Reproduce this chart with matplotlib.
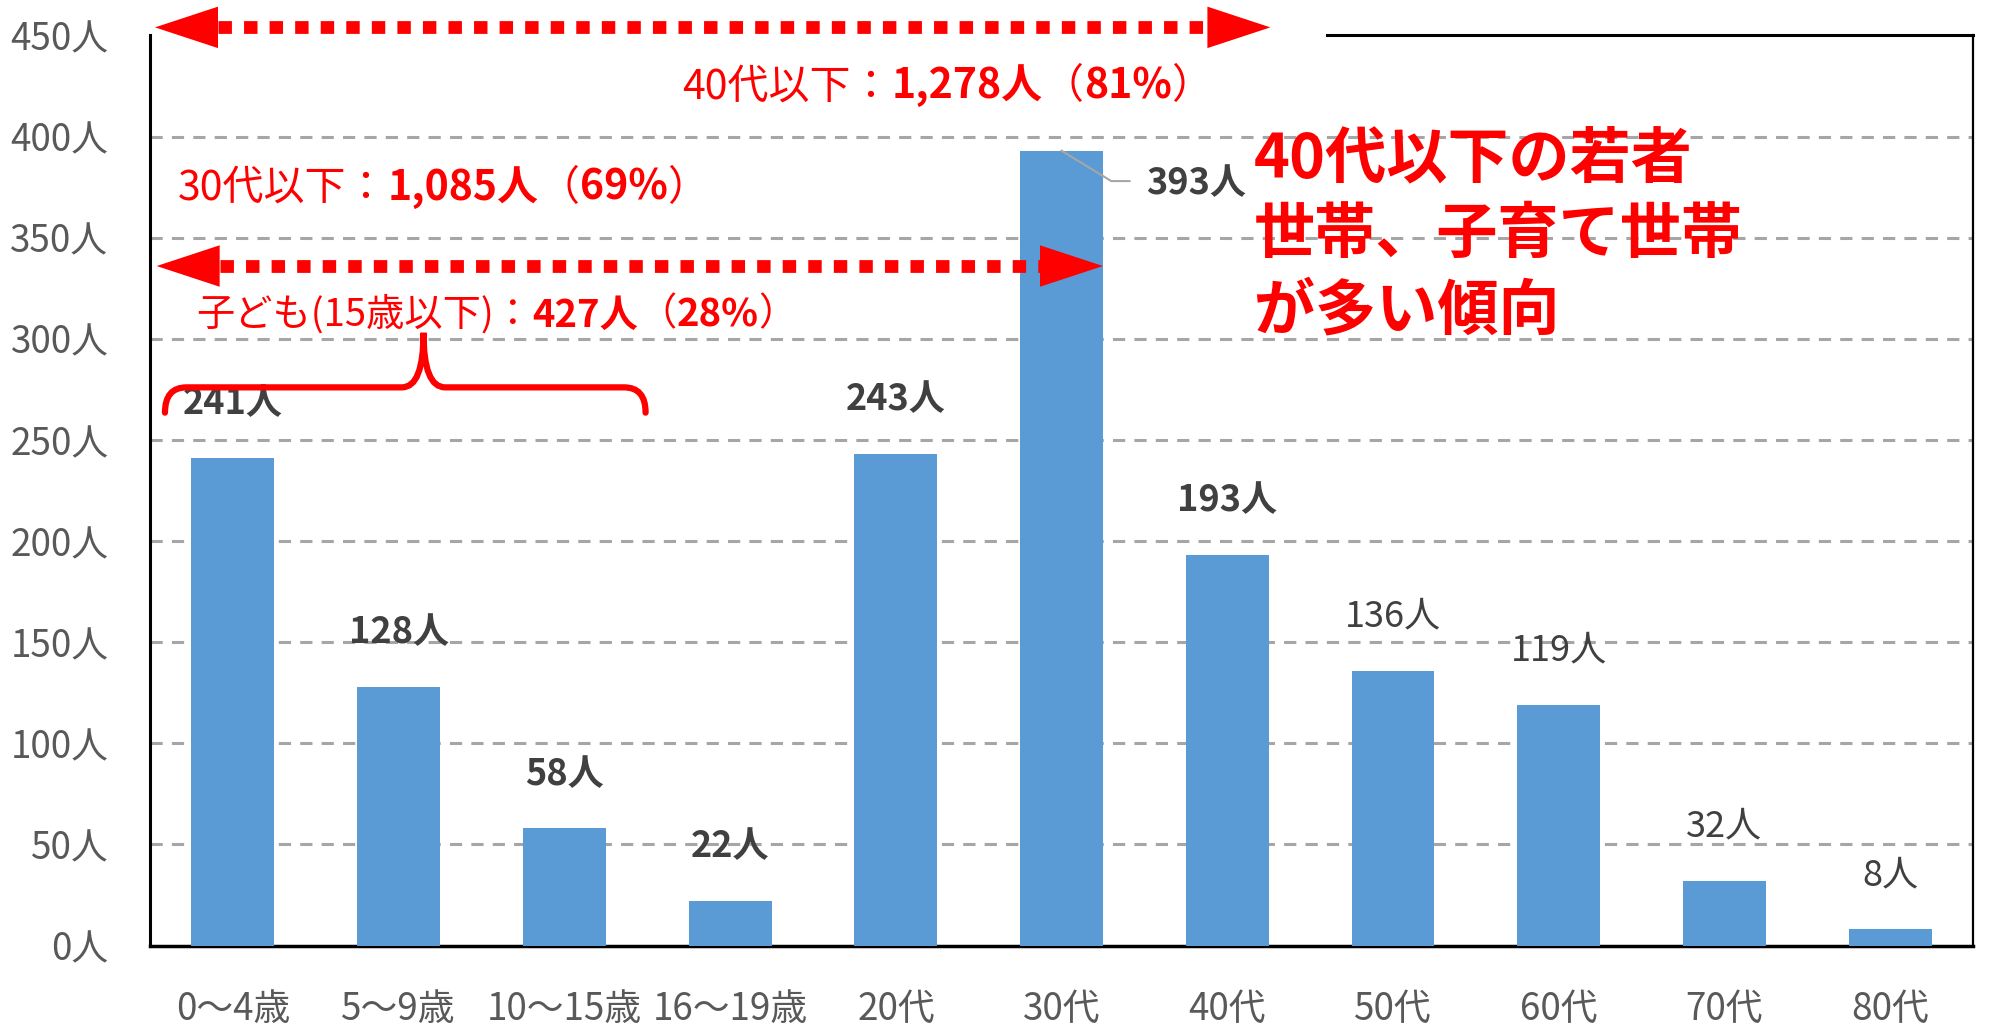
import matplotlib
matplotlib.use('Agg')
import matplotlib.pyplot as plt
from matplotlib.path import Path
from matplotlib.patches import PathPatch, Polygon

plt.rcParams['font.family'] = ['Noto Sans CJK JP', 'DejaVu Sans']

# データ（年代別の人数）
categories = ['0～4歳', '5～9歳', '10～15歳', '16～19歳', '20代', '30代',
              '40代', '50代', '60代', '70代', '80代']
people = [241, 128, 58, 22, 243, 393, 193, 136, 119, 32, 8]
yticks = [0, 50, 100, 150, 200, 250, 300, 350, 400, 450]
ytick_labels = [f'{v}人' for v in yticks]

# 注記テキスト（文字列, 太さ）
text_40 = [('40代以下：', 'normal'), ('1,278人', 'bold'), ('（', 'normal'),
           ('81%', 'bold'), ('）', 'normal')]
text_30 = [('30代以下：', 'normal'), ('1,085人', 'bold'), ('（', 'normal'),
           ('69%', 'bold'), ('）', 'normal')]
text_kids = [('子ども(15歳以下)：', 'normal'), ('427人', 'bold'), ('（', 'normal'),
             ('28%', 'bold'), ('）', 'normal')]
message = '40代以下の若者\n世帯、子育て世帯\nが多い傾向'

RED = '#FF0000'
BLUE = '#5B9BD5'
GRID = '#A6A6A6'
bold_labels = [True] * 7 + [False] * 4


def rich_text(ax, x, y, parts, size):
    # 太字と標準を並べて一行にする
    prev = None
    for s, w in parts:
        if prev is None:
            prev = ax.text(x, y, s, fontsize=size, fontweight=w, color=RED,
                           ha='left', va='center', clip_on=False)
        else:
            prev = ax.annotate(s, xy=(1, 0), xycoords=prev, fontsize=size,
                               fontweight=w, color=RED, ha='left', va='bottom')
    return prev


def dotted_arrow(ax, x0, x1, y, head_w=0.38, head_h=20.5):
    ax.plot([x0 + head_w, x1 - head_w], [y, y], color=RED, lw=9.2,
            linestyle=(0, (1.05, 0.95)), dash_capstyle='butt',
            clip_on=False, zorder=5)
    for tip, base in [(x0, x0 + head_w), (x1, x1 - head_w)]:
        tri = Polygon([[tip, y], [base, y + head_h / 2], [base, y - head_h / 2]],
                      closed=True, facecolor=RED, edgecolor='none',
                      clip_on=False, zorder=5)
        ax.add_patch(tri)


def brace(ax, x0, x1, y, end_y, tip_y, cx):
    c = 0.13
    verts = [(x0, end_y), (x0, y), (x0 + c, y),
             (cx - c, y),
             (cx, y), (cx, tip_y),
             (cx, y), (cx + c, y),
             (x1 - c, y),
             (x1, y), (x1, end_y)]
    codes = [Path.MOVETO, Path.CURVE3, Path.CURVE3,
             Path.LINETO,
             Path.CURVE3, Path.CURVE3,
             Path.CURVE3, Path.CURVE3,
             Path.LINETO,
             Path.CURVE3, Path.CURVE3]
    ax.add_patch(PathPatch(Path(verts, codes), facecolor='none', edgecolor=RED,
                           lw=4.5, capstyle='round', zorder=6, clip_on=False))


fig = plt.figure(figsize=(19.9, 10.28), dpi=100)
ax = fig.add_axes([0.0754, 0.0802, 0.9161, 0.8853])

x = list(range(len(categories)))
ax.bar(x, people, width=0.5, color=BLUE, zorder=3)

for yv in yticks[1:-1]:
    ax.axhline(yv, color=GRID, lw=2.2, linestyle=(0, (4, 3)), zorder=1)

ax.set_xlim(-0.5, len(categories) - 0.5)
ax.set_ylim(0, 450)
ax.set_xticks(x)
ax.set_xticklabels(categories)
ax.set_yticks(yticks)
ax.set_yticklabels(ytick_labels)
ax.tick_params(axis='both', length=0, labelsize=26.5, labelcolor='#595959')
ax.tick_params(axis='x', pad=32)
ax.tick_params(axis='y', pad=30)

for side in ['left', 'bottom', 'right', 'top']:
    ax.spines[side].set_color('black')
ax.spines['left'].set_linewidth(2.2)
ax.spines['bottom'].set_linewidth(2.5)
ax.spines['right'].set_linewidth(1.6)
ax.spines['top'].set_linewidth(2.2)
ax.spines['top'].set_bounds(6.6, len(categories) - 0.5)

# 棒の上の数値
for i, v in enumerate(people):
    label = f'{v}人'
    w = 'bold' if bold_labels[i] else 'normal'
    if v == max(people):
        ax.plot([i, i + 0.30, i + 0.41], [v, v - 15, v - 15],
                color=GRID, lw=1.5, zorder=4)
        ax.text(i + 0.51, v - 16, label, fontsize=26, fontweight=w,
                color='#404040', ha='left', va='center')
    else:
        ax.annotate(label, xy=(i, v), xytext=(0, 39), textcoords='offset points',
                    fontsize=26, fontweight=w, color='#404040',
                    ha='center', va='center')

# 矢印と注記
dotted_arrow(ax, -0.47, 6.26, 454)
dotted_arrow(ax, -0.46, 5.25, 336)
rich_text(ax, 2.71, 424.7, text_40, 29.5)
rich_text(ax, -0.33, 374.5, text_30, 29.5)
rich_text(ax, -0.22, 311.8, text_kids, 27.5)
brace(ax, -0.41, 2.49, 276, 263.5, 303, 1.15)

ax.text(6.16, 404, message, fontsize=44, fontweight='bold', color=RED,
        ha='left', va='top', linespacing=1.3)

fig.savefig('out.png', dpi=100)
